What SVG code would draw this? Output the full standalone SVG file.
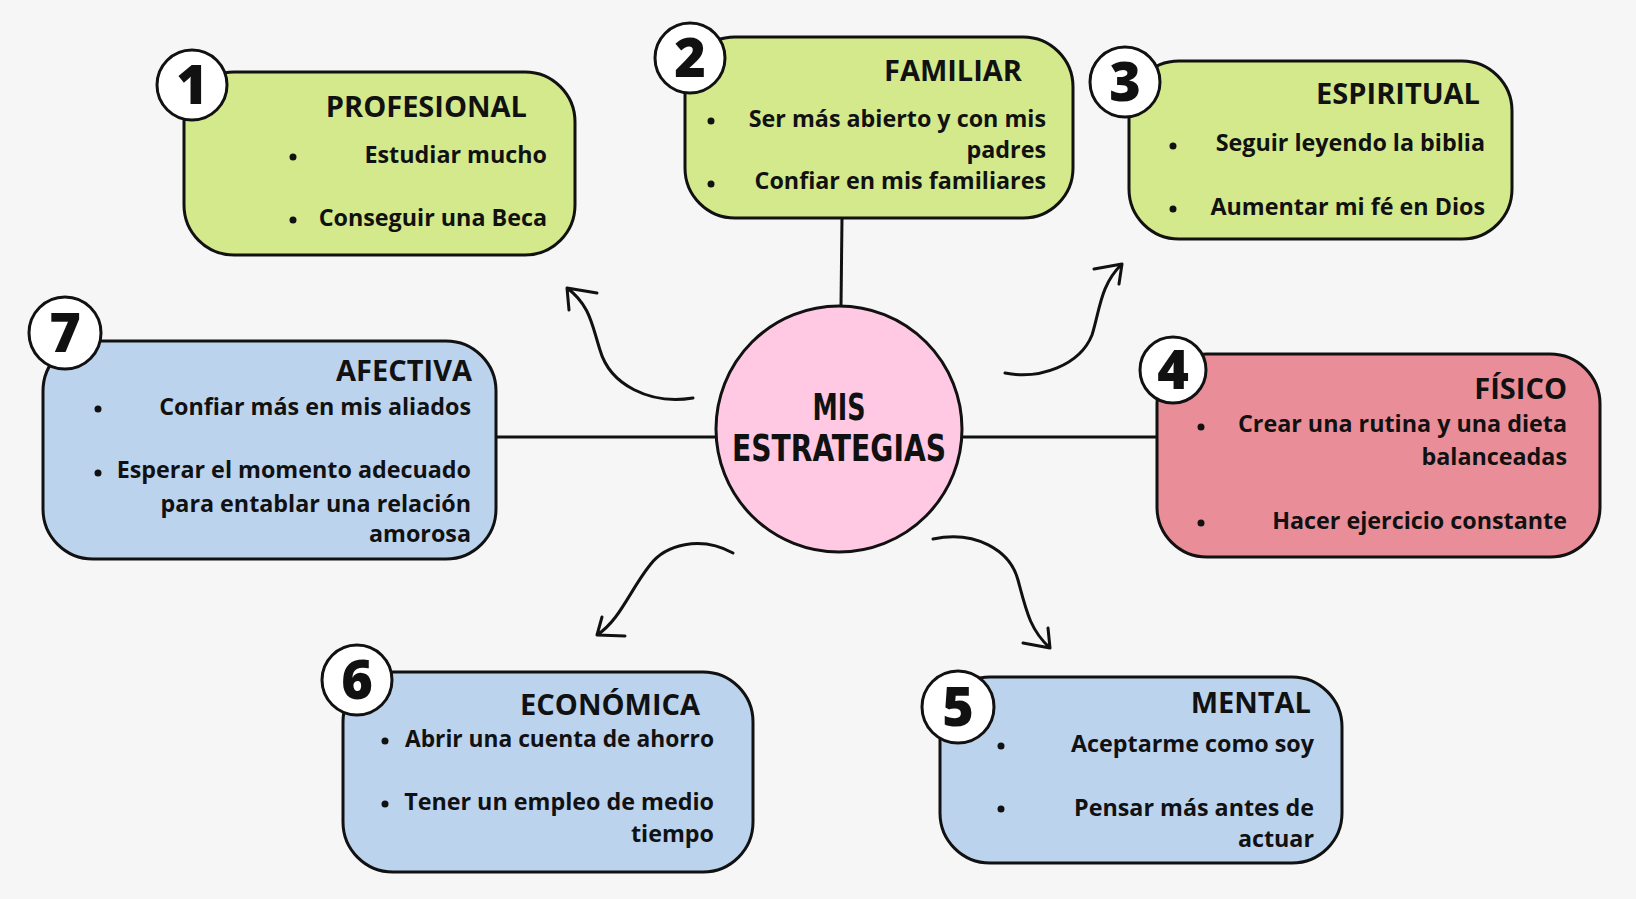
<svg xmlns="http://www.w3.org/2000/svg" width="1636" height="899" viewBox="0 0 1636 899">
<style>
.box{stroke:#111;stroke-width:3}
.g{fill:#d3e98b}.b{fill:#bcd3ee}.r{fill:#e98e98}
.num{fill:#fff;stroke:#111;stroke-width:3}
.dg{font-family:"Open Sans","Noto Sans",sans-serif;font-weight:800;font-size:54px;fill:#111;text-anchor:middle}
.t{font-family:"Open Sans","Noto Sans",sans-serif;font-weight:700;font-size:29px;fill:#111;text-anchor:end}
.i{font-family:"Open Sans","Noto Sans",sans-serif;font-weight:700;font-size:23.3px;fill:#111;text-anchor:end}
.dot{fill:#111}
.ln{stroke:#111;stroke-width:3;fill:none}
.ar{stroke:#111;stroke-width:3;fill:none;stroke-linecap:round;stroke-linejoin:round}
.c{font-family:"DejaVu Sans Condensed","Liberation Sans Narrow",sans-serif;font-weight:700;font-size:38px;fill:#111;text-anchor:middle}
</style>
<rect width="1636" height="899" fill="#f6f6f6"/>
<g id="connectors">
<path class="ln" d="M842,218 L841,306"/>
<path class="ln" d="M496,437 L716,437"/>
<path class="ln" d="M962,437 L1157,437"/>
<path class="ar" d="M693,398 C650,405 610,385 600,350 C592,325 590,305 567,288 M597,293 L567,288 L569,310"/>
<path class="ar" d="M1005,373 C1040,380 1080,365 1092,335 C1100,310 1100,285 1122,264 M1094,269 L1122,264 L1119,284"/>
<path class="ar" d="M733,553 C700,535 665,545 650,565 C630,590 620,620 597,635 M602,617 L597,635 L625,636"/>
<path class="ar" d="M933,539 C975,530 1010,550 1018,580 C1026,610 1030,630 1050,648 M1048,628 L1050,648 L1023,643"/>
</g>
<g id="center">
<circle cx="839" cy="429" r="123" fill="#ffc9e3" stroke="#111" stroke-width="3"/>
<text class="c" x="839" y="420" textLength="53" lengthAdjust="spacingAndGlyphs">MIS</text>
<text class="c" x="839" y="461" textLength="214" lengthAdjust="spacingAndGlyphs">ESTRATEGIAS</text>
</g>
<g id="n1">
<rect class="box g" x="184" y="72" width="391" height="183" rx="50"/>
<circle class="num" cx="192" cy="85" r="35"/>
<text class="dg" x="192" y="104">1</text>
<text class="t" x="527" y="117">PROFESIONAL</text>
<circle class="dot" cx="293" cy="157" r="3.5"/><circle class="dot" cx="293" cy="220" r="3.5"/>
<text class="i" x="547" y="163">Estudiar mucho</text>
<text class="i" x="547" y="226">Conseguir una Beca</text>
</g>
<g id="n2">
<rect class="box g" x="685" y="37" width="388" height="181" rx="50"/>
<circle class="num" cx="690" cy="58" r="35"/>
<text class="dg" x="690" y="77">2</text>
<text class="t" x="1022" y="81">FAMILIAR</text>
<circle class="dot" cx="711" cy="121" r="3.5"/><circle class="dot" cx="711" cy="184" r="3.5"/>
<text class="i" x="1046" y="127">Ser más abierto y con mis</text>
<text class="i" x="1046" y="158">padres</text>
<text class="i" x="1046" y="189">Confiar en mis familiares</text>
</g>
<g id="n3">
<rect class="box g" x="1129" y="61" width="383" height="178" rx="50"/>
<circle class="num" cx="1125" cy="82" r="35"/>
<text class="dg" x="1125" y="101">3</text>
<text class="t" x="1480" y="104">ESPIRITUAL</text>
<circle class="dot" cx="1173" cy="146" r="3.5"/><circle class="dot" cx="1173" cy="209" r="3.5"/>
<text class="i" x="1485" y="151">Seguir leyendo la biblia</text>
<text class="i" x="1485" y="215">Aumentar mi fé en Dios</text>
</g>
<g id="n4">
<rect class="box r" x="1157" y="354" width="443" height="203" rx="50"/>
<circle class="num" cx="1173" cy="370" r="33"/>
<text class="dg" x="1173" y="389">4</text>
<text class="t" x="1567" y="399">FÍSICO</text>
<circle class="dot" cx="1201" cy="427" r="3.5"/><circle class="dot" cx="1201" cy="523" r="3.5"/>
<text class="i" x="1567" y="432">Crear una rutina y una dieta</text>
<text class="i" x="1567" y="465">balanceadas</text>
<text class="i" x="1567" y="529">Hacer ejercicio constante</text>
</g>
<g id="n5">
<rect class="box b" x="940" y="677" width="402" height="186" rx="50"/>
<circle class="num" cx="958" cy="707" r="36"/>
<text class="dg" x="958" y="726">5</text>
<text class="t" x="1311" y="713">MENTAL</text>
<circle class="dot" cx="1001" cy="746" r="3.5"/><circle class="dot" cx="1001" cy="809" r="3.5"/>
<text class="i" x="1314" y="752">Aceptarme como soy</text>
<text class="i" x="1314" y="816">Pensar más antes de</text>
<text class="i" x="1314" y="847">actuar</text>
</g>
<g id="n6">
<rect class="box b" x="343" y="672" width="410" height="200" rx="50"/>
<circle class="num" cx="357" cy="680" r="35"/>
<text class="dg" x="357" y="699">6</text>
<text class="t" x="700" y="715">ECONÓMICA</text>
<circle class="dot" cx="385" cy="741" r="3.5"/><circle class="dot" cx="385" cy="804" r="3.5"/>
<text class="i" x="714" y="747" textLength="309" lengthAdjust="spacingAndGlyphs">Abrir una cuenta de ahorro</text>
<text class="i" x="714" y="810">Tener un empleo de medio</text>
<text class="i" x="714" y="842">tiempo</text>
</g>
<g id="n7">
<rect class="box b" x="43" y="341" width="453" height="218" rx="50"/>
<circle class="num" cx="65" cy="333" r="36"/>
<text class="dg" x="65" y="352">7</text>
<text class="t" x="472" y="381">AFECTIVA</text>
<circle class="dot" cx="98" cy="409" r="3.5"/><circle class="dot" cx="98" cy="473" r="3.5"/>
<text class="i" x="471" y="415">Confiar más en mis aliados</text>
<text class="i" x="471" y="478">Esperar el momento adecuado</text>
<text class="i" x="471" y="512">para entablar una relación</text>
<text class="i" x="471" y="542">amorosa</text>
</g>
</svg>
